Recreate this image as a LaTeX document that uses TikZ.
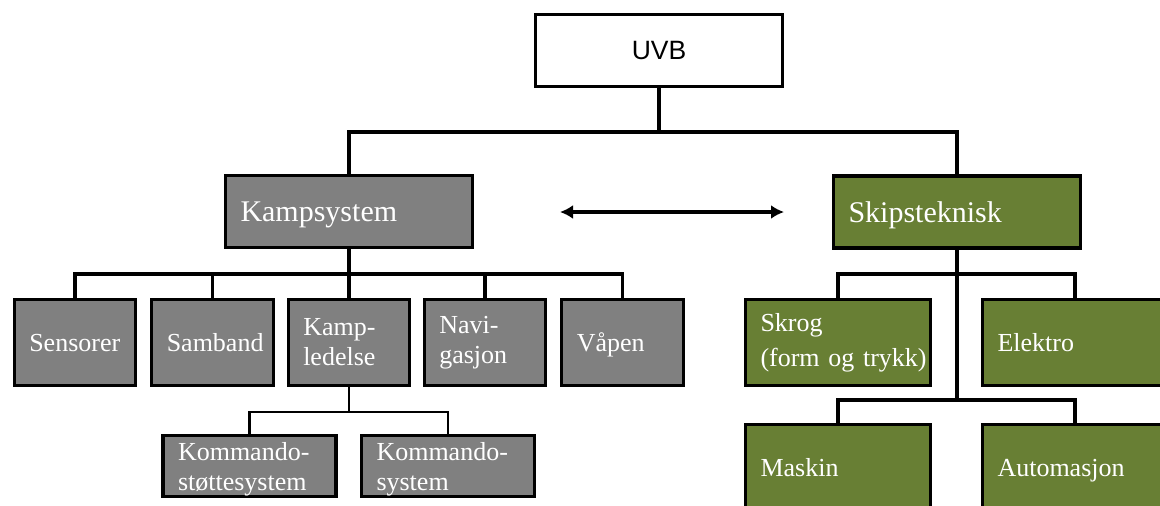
\documentclass[tikz,border=0pt]{standalone}
\usepackage{fontspec}
\setmainfont{Liberation Serif}
\setsansfont{Liberation Sans}
\usetikzlibrary{arrows.meta}
\definecolor{boxgray}{RGB}{128,128,128}
\definecolor{boxgreen}{RGB}{104,127,52}
\begin{document}
\begin{tikzpicture}[x=1pt,y=-1pt,
  box/.style={draw=black, line width=3.2pt, rectangle, inner xsep=15pt, inner ysep=0pt,
    align=left, text=white, font=\fontsize{26}{30}\selectfont},
  bigbox/.style={box, minimum width=247pt, minimum height=72pt, text width=217pt,
    font=\fontsize{30}{34}\selectfont, text depth=0pt},
  gbox/.style={box, fill=boxgray, minimum width=121.5pt, minimum height=86pt, text width=91.5pt},
  vbox/.style={box, fill=boxgreen, minimum width=185pt, minimum height=86pt, text width=155pt},
  kbox/.style={box, fill=boxgray, minimum width=173pt, minimum height=61pt, text width=143pt, text height=24pt},
  oneline/.style={text depth=0pt},
  conn/.style={line width=3.2pt},
  thinconn/.style={line width=2.2pt},
  dblarrow/.style={line width=3.2pt, {Latex[length=13pt,width=14pt]}-{Latex[length=13pt,width=14pt]}}
]
\useasboundingbox (0,0) rectangle (1160,506);
\clip (0,0) rectangle (1160,506);

% top
\node[draw=black, line width=3.2pt, fill=white, minimum width=247pt, minimum height=72pt,
  inner sep=0pt, font=\sffamily\fontsize{26.5}{30}\selectfont] (uvb) at (659,50.5) {UVB};

\node[bigbox, fill=boxgray] (kamp) at (349,211.5) {Kampsystem};
\node[bigbox, fill=boxgreen] (skip) at (957,212) {Skipsteknisk};

% combat system children
\node[gbox, oneline] (sens) at (75,342.5) {Sensorer};
\node[gbox, oneline] (samb) at (212.5,342.5) {Samband};
\node[gbox] (kled) at (349,342.5) {Kamp-\\ledelse};
\node[gbox] (navi) at (485,342.5) {Navi-\\gasjon};
\node[gbox, oneline] (vap) at (622.5,342.5) {Våpen};

\node[kbox] (kst) at (249.5,466) {Kommando-\\støttesystem};
\node[kbox] (ksy) at (448,466) {Kommando-\\system};

% ship technical children
\node[vbox] (skrog) at (838,342.5) {Skrog\\[5pt]\mbox{(form og trykk)}};
\node[vbox, oneline] (elek) at (1075,342.5) {Elektro};
\node[vbox, oneline] (mask) at (838,467.5) {Maskin};
\node[vbox, oneline] (auto) at (1075,467.5) {Automasjon};

% bus levels
\coordinate (b1) at (0,132);
\coordinate (b2) at (0,274);
\coordinate (b3) at (0,412);
\coordinate (b5) at (0,400);

% connectors
\draw[conn] (uvb.south) -- (uvb.south |- b1);
\draw[conn] (kamp.north) -- (kamp.north |- b1) -- (skip.north |- b1) -- (skip.north);

\draw[conn] (kamp.south) -- (kamp.south |- b2);
\draw[conn] (sens.north) -- (sens.north |- b2) -- (vap.north |- b2) -- (vap.north);
\draw[conn] (samb.north) -- (samb.north |- b2);
\draw[conn] (kled.north) -- (kled.north |- b2);
\draw[conn] (navi.north) -- (navi.north |- b2);

\draw[thinconn] (kled.south) -- (kled.south |- b3);
\draw[thinconn] (kst.north) -- (kst.north |- b3) -- (ksy.north |- b3) -- (ksy.north);

\draw[conn] (skip.south) -- (skip.south |- b5);
\draw[conn] (skrog.north) -- (skrog.north |- b2) -- (elek.north |- b2) -- (elek.north);
\draw[conn] (mask.north) -- (mask.north |- b5) -- (auto.north |- b5) -- (auto.north);

% double arrow
\coordinate (al) at (560,212);
\coordinate (ar) at (784,212);
\draw[dblarrow] (al) -- (ar);
\end{tikzpicture}
\end{document}
